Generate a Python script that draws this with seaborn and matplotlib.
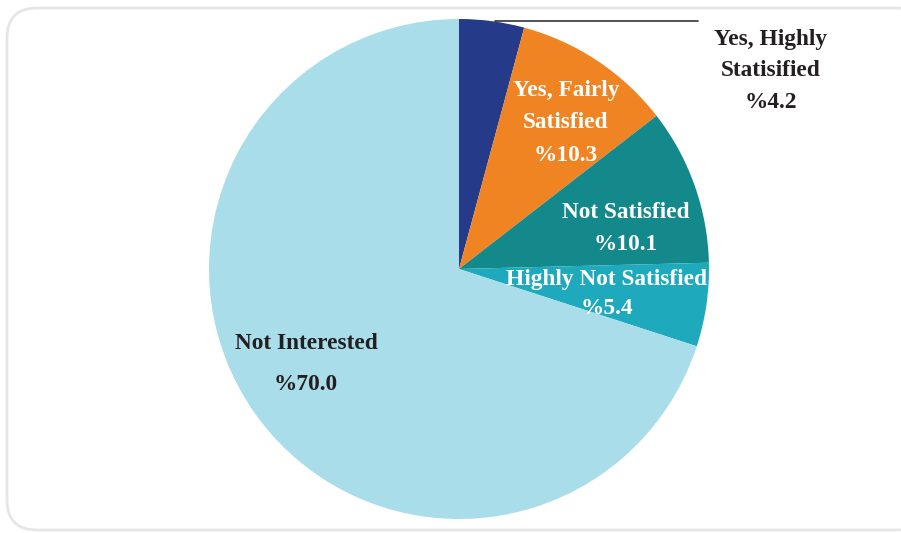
import matplotlib
matplotlib.use('Agg')
import matplotlib.pyplot as plt
import seaborn as sns
from matplotlib.patches import FancyBboxPatch

sns.set_style("white")
plt.rcParams['font.family'] = ['Liberation Serif', 'DejaVu Serif']

# data
categories = ['Yes, Highly\nStatisified', 'Yes, Fairly\nSatisfied', 'Not Satisfied',
              'Highly Not Satisfied', 'Not Interested']
values = [4.2, 10.3, 10.1, 5.4, 70.0]
colors = ['#263a8a', '#f08423', '#13898b', '#1fa9bd', '#a8dde9']

W, H = 901, 533
fig = plt.figure(figsize=(W / 100, H / 100), dpi=100)
ax = fig.add_axes([0, 0, 1, 1])
ax.set_xlim(0, W)
ax.set_ylim(0, H)
ax.axis('off')

# rounded frame
frame = FancyBboxPatch((7, 3), W + 20, H - 11, boxstyle="round,pad=0,rounding_size=30",
                       facecolor='white', edgecolor='#e6e6e6', linewidth=2.0, zorder=0)
ax.add_patch(frame)

cx, cy, r = 459, H - 269, 250
wedges, _ = ax.pie(values, colors=colors, startangle=90, counterclock=False,
                   center=(cx, cy), radius=r, frame=True,
                   wedgeprops=dict(linewidth=0))
ax.set_xlim(0, W)
ax.set_ylim(0, H)
ax.axis('off')

# labels (pixel positions, y from top)
lab_pos = [(771, 71), (566, 123), (626, 228.5), (607, 293.5), (306, 364)]
lab_col = ['#231f20', 'white', 'white', 'white', '#231f20']
lab_ls = [1.67, 1.7, 1.7, 1.5, 2.3]
for name, v, (x, y), c, ls in zip(categories, values, lab_pos, lab_col, lab_ls):
    ax.text(x, H - y, f"{name}\n%{v:.1f}", ha='center', va='center', color=c,
            fontsize=16.8, fontweight='bold', linespacing=ls, zorder=5)

# leader line for smallest slice
ax.plot([495, 698], [H - 21, H - 21], color='#333333', lw=1.2, zorder=4)

fig.savefig('out.png', dpi=100)
